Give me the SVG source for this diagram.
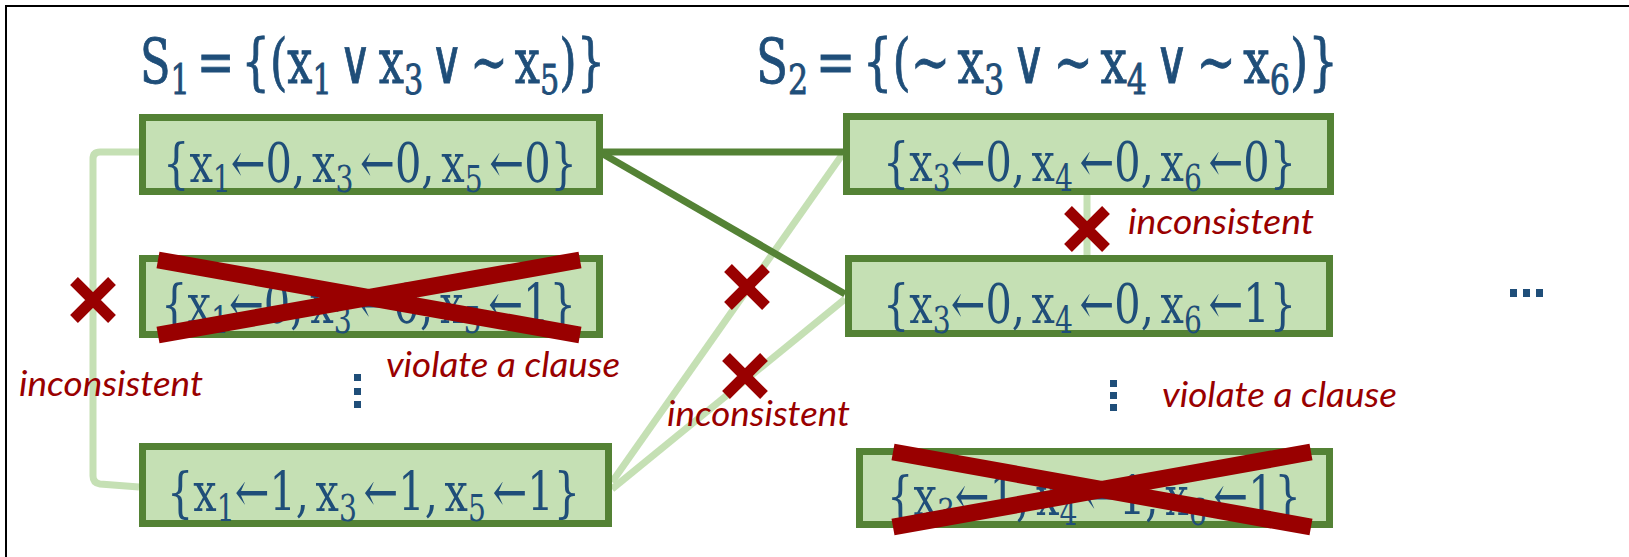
<svg xmlns="http://www.w3.org/2000/svg" width="1629" height="557" viewBox="0 0 1629 557">
<style>
.math{font-family:"DejaVu Serif Condensed","DejaVu Serif","Liberation Serif",serif;fill:#1F4E79;word-spacing:-0.14em;}
.title{font-size:61px;stroke:#1F4E79;stroke-width:0.8px;}
.btxt{font-size:55px;}
.sub{font-size:0.68em;}
.box{fill:#C5E0B4;stroke:#548235;stroke-width:7;}
.lbl{font-family:Lato,"Open Sans",sans-serif;font-style:italic;font-size:35px;fill:#990000;}
.dark{stroke:#548235;stroke-width:7;fill:none;}
.light{stroke:#C5E0B4;stroke-width:7;fill:none;}
.xs{stroke:#990000;stroke-width:11;fill:none;}
.xb{stroke:#990000;stroke-width:17;fill:none;}
.dot{fill:#1F4E79;}
</style>
<defs>
<g id="smallx"><path class="xs" d="M-19,-19L19,19M-19,19L19,-19"/></g>
</defs>
<rect width="1629" height="557" fill="#fff"/>
<path d="M6,557V6H1629" stroke="#000" stroke-width="2" fill="none"/>

<g id="titles">
<text class="math title" x="140" y="83" textLength="465" lengthAdjust="spacingAndGlyphs">S<tspan class="sub" dy="11">1</tspan><tspan dy="-11"> = {(x</tspan><tspan class="sub" dy="11">1</tspan><tspan dy="-11"> ∨ x</tspan><tspan class="sub" dy="11">3</tspan><tspan dy="-11"> ∨ ∼ x</tspan><tspan class="sub" dy="11">5</tspan><tspan dy="-11">)}</tspan></text>
<text class="math title" x="756" y="83" textLength="582" lengthAdjust="spacingAndGlyphs">S<tspan class="sub" dy="11">2</tspan><tspan dy="-11"> = {(∼ x</tspan><tspan class="sub" dy="11">3</tspan><tspan dy="-11"> ∨ ∼ x</tspan><tspan class="sub" dy="11">4</tspan><tspan dy="-11"> ∨ ∼ x</tspan><tspan class="sub" dy="11">6</tspan><tspan dy="-11">)}</tspan></text>
</g>

<g id="connectors">
<path class="light" d="M139,152H100Q93,152 93,159V476Q93,483 100,484L139,487"/>
<path class="light" d="M612,482L842,155"/>
<path class="light" d="M612,489L845,299"/>
<path class="light" d="M1087,195V256"/>
<path class="dark" d="M603,152L843,152"/>
<path class="dark" d="M603,154L845,294"/>
</g>

<g id="n1">
<rect class="box" x="142.5" y="117.5" width="457" height="74"/>
<text class="math btxt" x="163" y="182" textLength="414" lengthAdjust="spacingAndGlyphs">{x<tspan class="sub" dy="10">1</tspan><tspan dy="-10">←0, x</tspan><tspan class="sub" dy="10">3</tspan><tspan dy="-10"> ←0, x</tspan><tspan class="sub" dy="10">5</tspan><tspan dy="-10"> ←0}</tspan></text>
</g>

<g id="n2">
<rect class="box" x="142.5" y="258.5" width="457" height="76"/>
<text class="math btxt" x="161" y="323" textLength="415" lengthAdjust="spacingAndGlyphs">{x<tspan class="sub" dy="10">1</tspan><tspan dy="-10">←0, x</tspan><tspan class="sub" dy="10">3</tspan><tspan dy="-10"> ←0, x</tspan><tspan class="sub" dy="10">5</tspan><tspan dy="-10"> ←1}</tspan></text>
<path class="xb" d="M158,260L580,335M158,335L580,260"/>
</g>

<g id="n3">
<rect class="box" x="142.5" y="446.5" width="466" height="77"/>
<text class="math btxt" x="167" y="511" textLength="413" lengthAdjust="spacingAndGlyphs">{x<tspan class="sub" dy="10">1</tspan><tspan dy="-10">←1, x</tspan><tspan class="sub" dy="10">3</tspan><tspan dy="-10"> ←1, x</tspan><tspan class="sub" dy="10">5</tspan><tspan dy="-10"> ←1}</tspan></text>
</g>

<g id="n4">
<rect class="box" x="846.5" y="116.5" width="484" height="75"/>
<text class="math btxt" x="883" y="181" textLength="413" lengthAdjust="spacingAndGlyphs">{x<tspan class="sub" dy="10">3</tspan><tspan dy="-10">←0, x</tspan><tspan class="sub" dy="10">4</tspan><tspan dy="-10"> ←0, x</tspan><tspan class="sub" dy="10">6</tspan><tspan dy="-10"> ←0}</tspan></text>
</g>

<g id="n5">
<rect class="box" x="848.5" y="258.5" width="481" height="75"/>
<text class="math btxt" x="883" y="323" textLength="413" lengthAdjust="spacingAndGlyphs">{x<tspan class="sub" dy="10">3</tspan><tspan dy="-10">←0, x</tspan><tspan class="sub" dy="10">4</tspan><tspan dy="-10"> ←0, x</tspan><tspan class="sub" dy="10">6</tspan><tspan dy="-10"> ←1}</tspan></text>
</g>

<g id="n6">
<rect class="box" x="859.5" y="451.5" width="470" height="73"/>
<text class="math btxt" x="887" y="515" textLength="414" lengthAdjust="spacingAndGlyphs">{x<tspan class="sub" dy="10">3</tspan><tspan dy="-10">←1, x</tspan><tspan class="sub" dy="10">4</tspan><tspan dy="-10"> ←1, x</tspan><tspan class="sub" dy="10">6</tspan><tspan dy="-10"> ←1}</tspan></text>
<path class="xb" d="M893,452L1311,527M893,527L1311,452"/>
</g>

<g id="marks">
<use href="#smallx" x="93" y="300"/>
<use href="#smallx" x="747" y="287"/>
<use href="#smallx" x="745" y="376"/>
<use href="#smallx" x="1087" y="229"/>
<text class="lbl" x="19" y="396" textLength="184" lengthAdjust="spacingAndGlyphs">inconsistent</text>
<text class="lbl" x="386" y="377" textLength="234" lengthAdjust="spacingAndGlyphs">violate a clause</text>
<text class="lbl" x="667" y="426" textLength="183" lengthAdjust="spacingAndGlyphs">inconsistent</text>
<text class="lbl" x="1128" y="234" textLength="186" lengthAdjust="spacingAndGlyphs">inconsistent</text>
<text class="lbl" x="1162" y="407" textLength="235" lengthAdjust="spacingAndGlyphs">violate a clause</text>
</g>

<g id="ellipses">
<rect class="dot" x="354" y="374" width="7" height="7"/>
<rect class="dot" x="354" y="388" width="7" height="7"/>
<rect class="dot" x="354" y="401" width="7" height="7"/>
<rect class="dot" x="1110" y="380" width="7" height="7"/>
<rect class="dot" x="1110" y="392" width="7" height="7"/>
<rect class="dot" x="1110" y="404" width="7" height="7"/>
<rect class="dot" x="1510" y="289" width="7" height="8"/>
<rect class="dot" x="1523" y="289" width="7" height="8"/>
<rect class="dot" x="1536" y="289" width="7" height="8"/>
</g>
</svg>
